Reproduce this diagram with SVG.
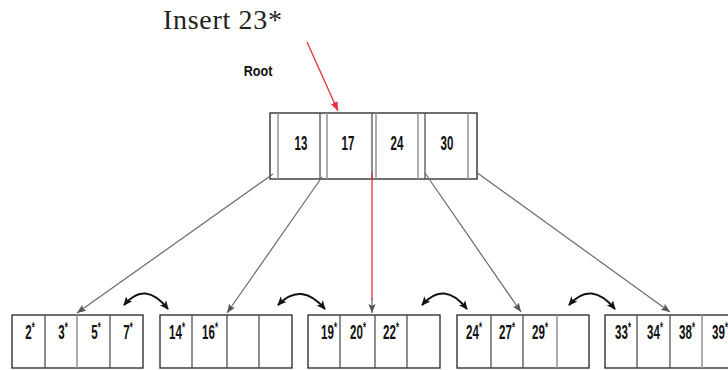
<svg xmlns="http://www.w3.org/2000/svg" width="728" height="370" viewBox="0 0 728 370">
<defs>
<style>
.box{fill:#fff;stroke:#222;stroke-width:1.3}
.div{stroke:#444;stroke-width:1.2}
.gdiv{stroke:#999;stroke-width:1.6}
.k{font-family:"Liberation Sans",Arial,sans-serif;font-weight:bold;font-size:21px;fill:#111;text-anchor:middle}
.ast{font-size:14px}
.conn{stroke:#6a6a6a;stroke-width:1.2;fill:none}
.sib{stroke:#111;stroke-width:2;fill:none}
.red{stroke:#e8303a;stroke-width:1.3;fill:none}
</style>
<marker id="ag" viewBox="0 0 10 10" refX="10" refY="5" markerWidth="9" markerHeight="9" markerUnits="userSpaceOnUse" orient="auto"><path d="M0,1 L10,5 L0,9 L2,5 Z" fill="#555"/></marker>
<marker id="ar" viewBox="0 0 10 10" refX="10" refY="5" markerWidth="9" markerHeight="9" markerUnits="userSpaceOnUse" orient="auto"><path d="M0,1 L10,5 L0,9 Z" fill="#e8303a"/></marker>
<marker id="ab" viewBox="0 0 10 10" refX="9" refY="5" markerWidth="9" markerHeight="9" markerUnits="userSpaceOnUse" orient="auto-start-reverse"><path d="M0,0.5 L10,5 L0,9.5 L2.5,5 Z" fill="#111"/></marker>
</defs>
<rect width="728" height="370" fill="#fff"/>

<g id="title">
<text x="163" y="29" font-family="'Liberation Serif','Times New Roman',serif" font-size="28" textLength="119" fill="#222">Insert 23*</text>
</g>
<g id="rootlabel">
<text transform="translate(258,76) scale(0.9,1)" font-family="'Liberation Sans',Arial,sans-serif" font-weight="bold" font-size="14" fill="#111" text-anchor="middle">Root</text>
</g>

<g id="root">
<rect class="box" x="270" y="113" width="207" height="66"/>
<line class="gdiv" x1="278" y1="113" x2="278" y2="179"/>
<line class="div" x1="320" y1="113" x2="320" y2="179"/>
<line class="gdiv" x1="327" y1="113" x2="327" y2="179"/>
<line class="div" x1="372" y1="113" x2="372" y2="179"/>
<line class="gdiv" x1="376" y1="113" x2="376" y2="179"/>
<line class="gdiv" x1="418" y1="113" x2="418" y2="179"/>
<line class="div" x1="425" y1="113" x2="425" y2="179"/>
<line class="gdiv" x1="468" y1="113" x2="468" y2="179"/>
<text class="k" transform="translate(301,150) scale(0.55,1)">13</text>
<text class="k" transform="translate(348,150) scale(0.55,1)">17</text>
<text class="k" transform="translate(397,150) scale(0.55,1)">24</text>
<text class="k" transform="translate(447,150) scale(0.55,1)">30</text>
</g>

<g id="leaf1">
<rect class="box" x="12" y="315" width="131" height="53"/>
<line class="div" x1="45" y1="315" x2="45" y2="368"/>
<line class="gdiv" x1="77" y1="315" x2="77" y2="368"/>
<line class="div" x1="110" y1="315" x2="110" y2="368"/>
<text class="k" transform="translate(30,339) scale(0.55,1)">2<tspan class="ast" dy="-7">*</tspan></text>
<text class="k" transform="translate(63,339) scale(0.55,1)">3<tspan class="ast" dy="-7">*</tspan></text>
<text class="k" transform="translate(96,339) scale(0.55,1)">5<tspan class="ast" dy="-7">*</tspan></text>
<text class="k" transform="translate(128,339) scale(0.55,1)">7<tspan class="ast" dy="-7">*</tspan></text>
</g>

<g id="leaf2">
<rect class="box" x="160" y="315" width="132" height="53"/>
<line class="div" x1="192" y1="315" x2="192" y2="368"/>
<line class="div" x1="227" y1="315" x2="227" y2="368"/>
<line class="div" x1="259" y1="315" x2="259" y2="368"/>
<text class="k" transform="translate(177,339) scale(0.55,1)">14<tspan class="ast" dy="-7">*</tspan></text>
<text class="k" transform="translate(210,339) scale(0.55,1)">16<tspan class="ast" dy="-7">*</tspan></text>
</g>

<g id="leaf3">
<rect class="box" x="308" y="315" width="132" height="53"/>
<line class="div" x1="340" y1="315" x2="340" y2="368"/>
<line class="div" x1="375" y1="315" x2="375" y2="368"/>
<line class="div" x1="407" y1="315" x2="407" y2="368"/>
<text class="k" transform="translate(329,339) scale(0.55,1)">19<tspan class="ast" dy="-7">*</tspan></text>
<text class="k" transform="translate(358,339) scale(0.55,1)">20<tspan class="ast" dy="-7">*</tspan></text>
<text class="k" transform="translate(391,339) scale(0.55,1)">22<tspan class="ast" dy="-7">*</tspan></text>
</g>

<g id="leaf4">
<rect class="box" x="457" y="315" width="132" height="53"/>
<line class="div" x1="491" y1="315" x2="491" y2="368"/>
<line class="div" x1="523" y1="315" x2="523" y2="368"/>
<line class="gdiv" x1="557" y1="315" x2="557" y2="368"/>
<text class="k" transform="translate(474,339) scale(0.55,1)">24<tspan class="ast" dy="-7">*</tspan></text>
<text class="k" transform="translate(507,339) scale(0.55,1)">27<tspan class="ast" dy="-7">*</tspan></text>
<text class="k" transform="translate(540,339) scale(0.55,1)">29<tspan class="ast" dy="-7">*</tspan></text>
</g>

<g id="leaf5">
<rect class="box" x="605" y="315" width="132" height="53"/>
<line class="div" x1="637" y1="315" x2="637" y2="368"/>
<line class="div" x1="670" y1="315" x2="670" y2="368"/>
<line class="gdiv" x1="702" y1="315" x2="702" y2="368"/>
<text class="k" transform="translate(623,339) scale(0.55,1)">33<tspan class="ast" dy="-7">*</tspan></text>
<text class="k" transform="translate(655,339) scale(0.55,1)">34<tspan class="ast" dy="-7">*</tspan></text>
<text class="k" transform="translate(687,339) scale(0.55,1)">38<tspan class="ast" dy="-7">*</tspan></text>
<text class="k" transform="translate(720,339) scale(0.55,1)">39<tspan class="ast" dy="-7">*</tspan></text>
</g>

<g id="connectors">
<line class="red" x1="307" y1="42" x2="338" y2="111" marker-end="url(#ar)"/>
<line class="conn" x1="273" y1="174" x2="77" y2="313" marker-end="url(#ag)"/>
<line class="conn" x1="322" y1="177" x2="227" y2="313" marker-end="url(#ag)"/>
<line class="red" x1="372" y1="172" x2="372" y2="300"/>
<line class="conn" x1="372" y1="298" x2="372" y2="313" marker-end="url(#ag)"/>
<line class="conn" x1="425" y1="173" x2="521" y2="312" marker-end="url(#ag)"/>
<line class="conn" x1="476" y1="172" x2="670" y2="312" marker-end="url(#ag)"/>
<path class="sib" d="M124,305 Q145,280 168,309" marker-start="url(#ab)" marker-end="url(#ab)"/>
<path class="sib" d="M278,305 Q301,281 325,309" marker-start="url(#ab)" marker-end="url(#ab)"/>
<path class="sib" d="M422,305 Q444,280 467,309" marker-start="url(#ab)" marker-end="url(#ab)"/>
<path class="sib" d="M569,305 Q591,280 615,309" marker-start="url(#ab)" marker-end="url(#ab)"/>
</g>
</svg>
